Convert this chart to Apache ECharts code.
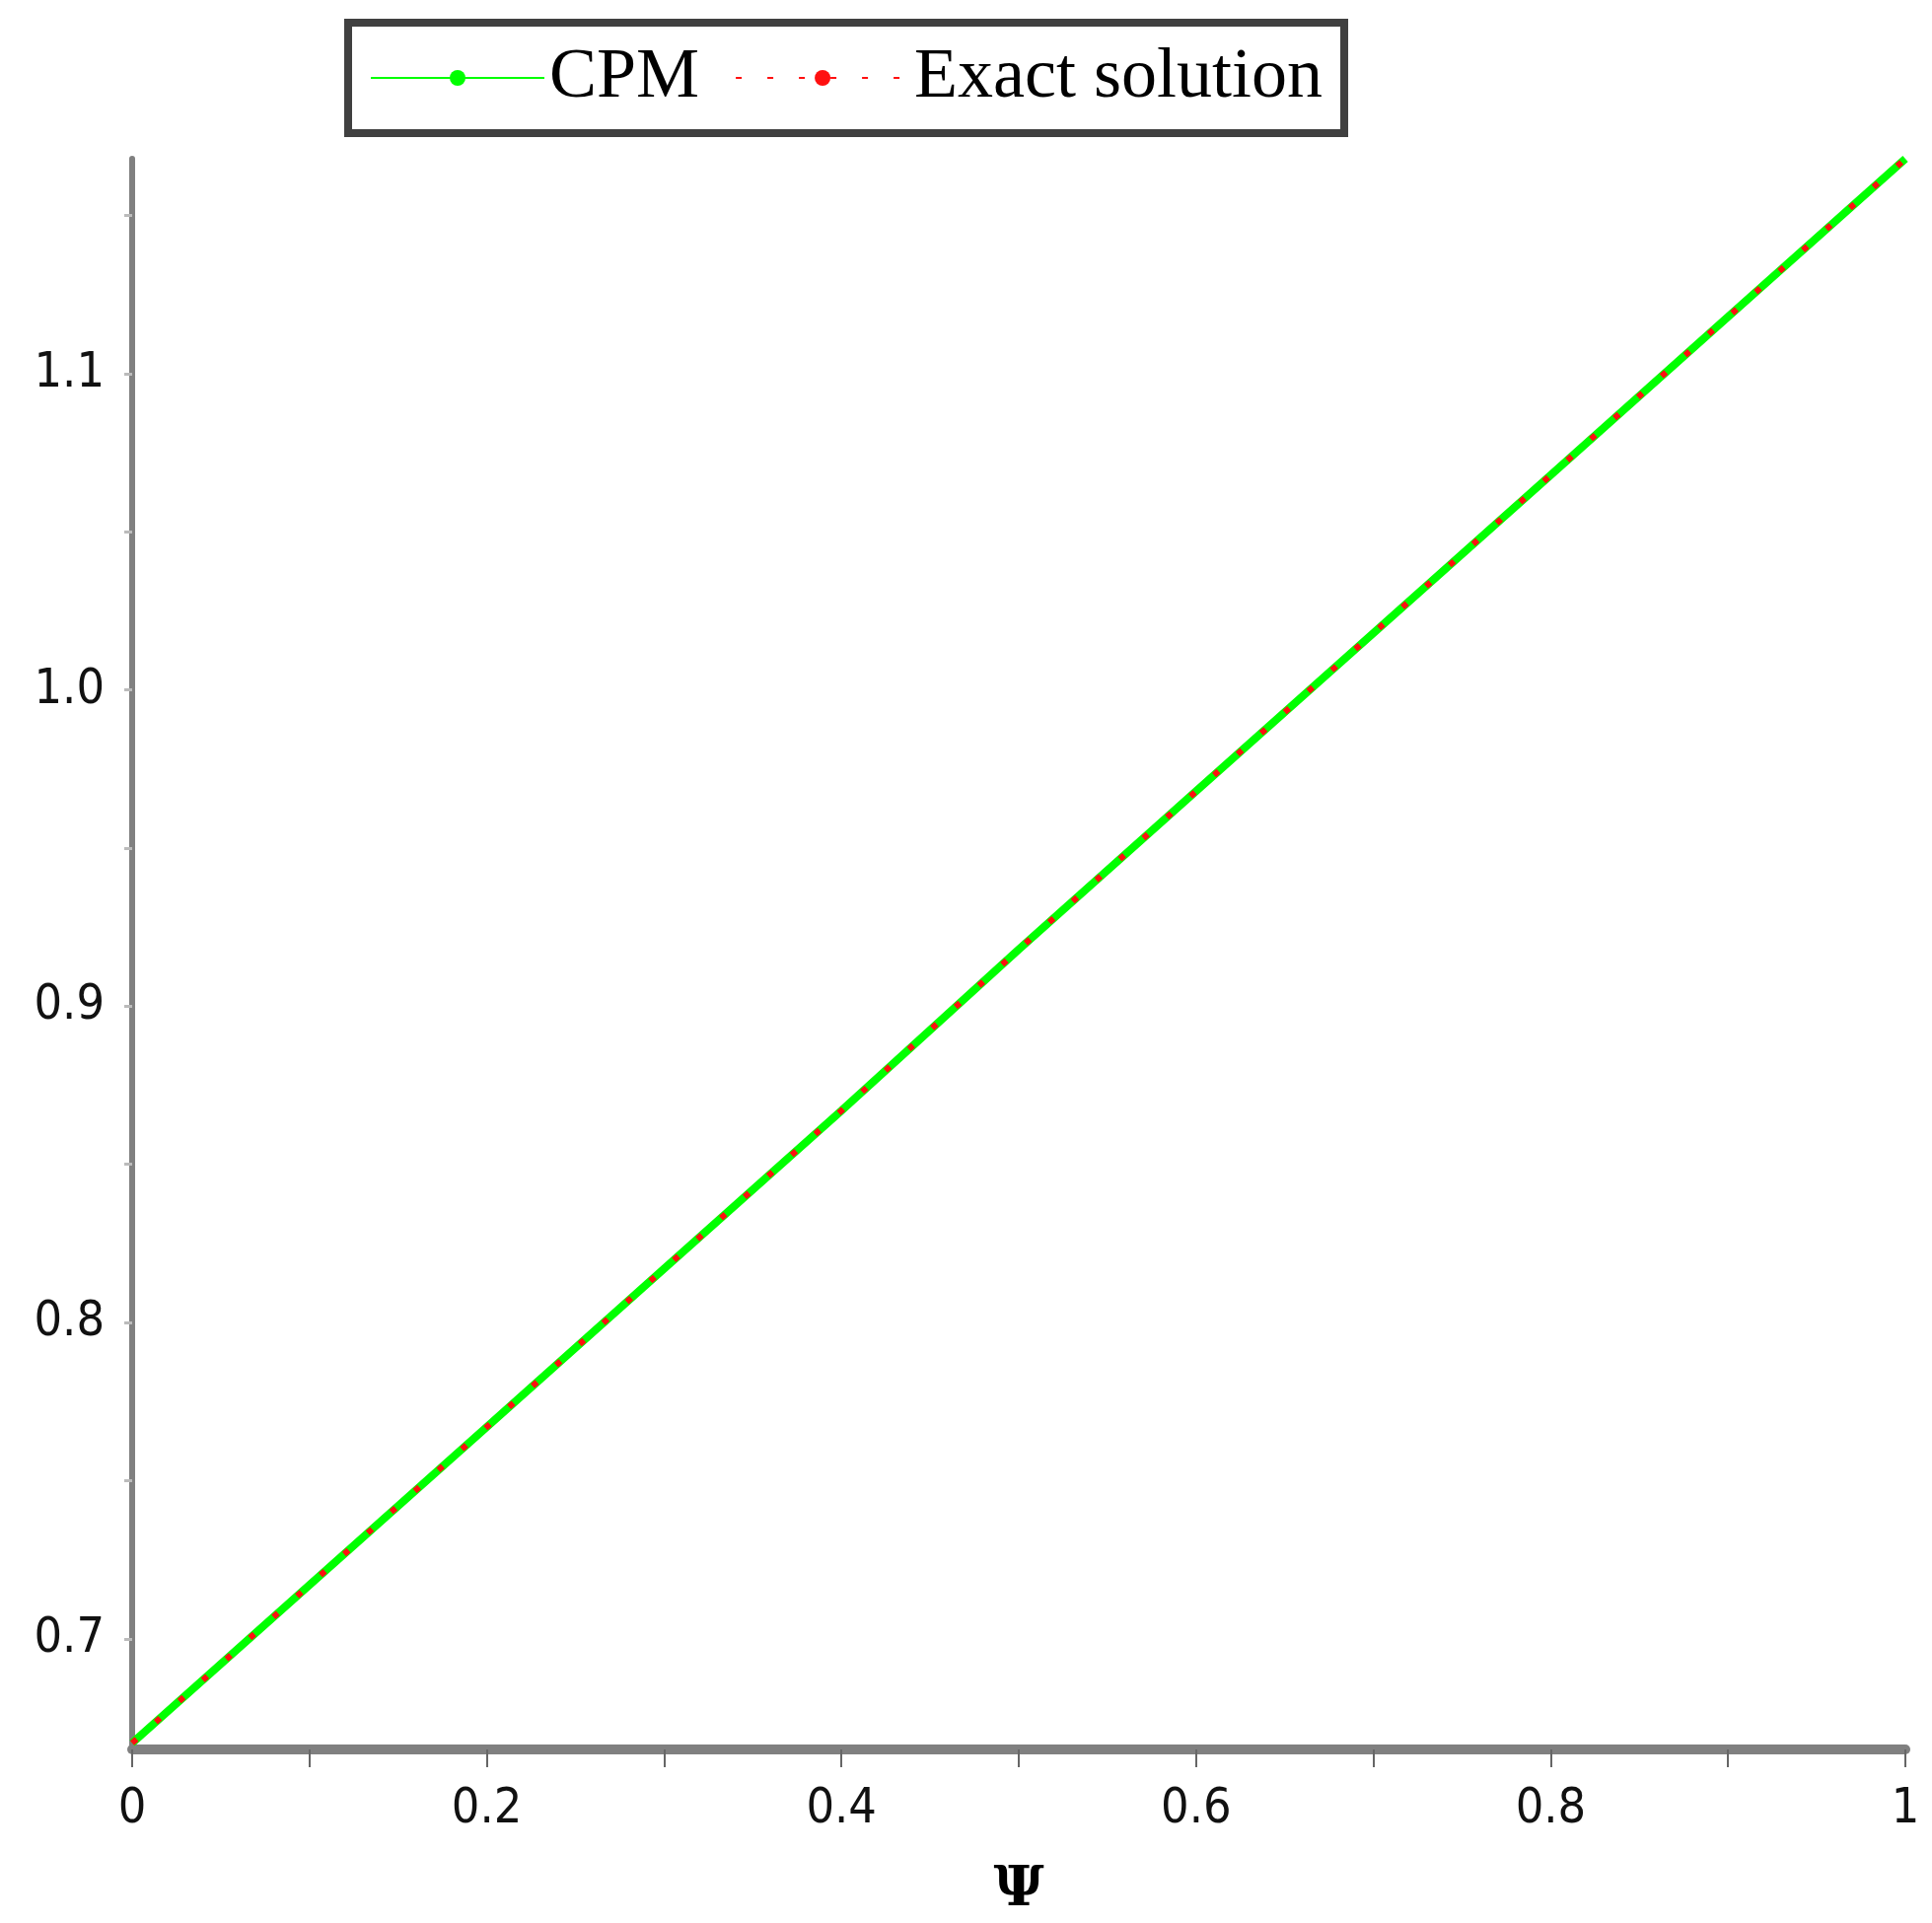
<!DOCTYPE html>
<html>
<head>
<meta charset="utf-8">
<script src="https://cdn.jsdelivr.net/npm/echarts@6/dist/echarts.min.js"></script>
<style>html,body{margin:0;background:#fff}#main{width:1959px;height:1950px}</style>
</head>
<body>
<div id="main"></div>
<script>
// 数据
let psi = [0, 0.1, 0.2, 0.3, 0.4, 0.5, 0.6, 0.7, 0.8, 0.9, 1.0]
let cpm = [0.667, 0.717, 0.767, 0.817, 0.867, 0.918, 0.968, 1.018, 1.068, 1.118, 1.168]
let exact = [0.667, 0.717, 0.767, 0.817, 0.867, 0.918, 0.968, 1.018, 1.068, 1.118, 1.168]
let xLabels = [0, 0.2, 0.4, 0.6, 0.8, 1]
let yLabels = [0.7, 0.8, 0.9, 1.0, 1.1]
let yTicks = [0.7, 0.75, 0.8, 0.85, 0.9, 0.95, 1.0, 1.05, 1.1, 1.15]

let chart = echarts.init(document.getElementById('main'));
let option = {
    animation: false,
    legend: {
        top: 23,
        left: 353,
        itemWidth: 176,
        itemHeight: 20,
        itemGap: 36,
        padding: [20, 22, 20, 22],
        borderWidth: 8,
        borderColor: '#404040',
        textStyle: { fontFamily: 'Liberation Serif', fontSize: 72, color: '#000' },
        data: ['CPM', 'Exact solution']
    },
    grid: { left: 134, right: 27, top: 161, bottom: 174 },
    xAxis: {
        type: 'value', min: 0, max: 1,
        name: 'Ψ', nameLocation: 'middle', nameGap: 115,
        nameTextStyle: { fontFamily: 'DejaVu Serif', fontWeight: 'bold', fontSize: 56, color: '#000' },
        axisLine: { lineStyle: { color: '#808080', width: 10 } },
        axisTick: { customValues: psi, length: 18, lineStyle: { color: '#666', width: 2 } },
        axisLabel: {
            customValues: xLabels, margin: 36,
            fontFamily: 'DejaVu Sans Condensed', fontSize: 50, color: '#111',
            formatter: v => String(+v.toFixed(1))
        },
        splitLine: { show: false }
    },
    yAxis: {
        type: 'value', min: 0.665, max: 1.168,
        axisLine: { show: true, lineStyle: { color: '#808080', width: 6 } },
        axisTick: { show: true, customValues: yTicks, length: 8, lineStyle: { color: '#bbb', width: 3 } },
        axisLabel: {
            customValues: yLabels, margin: 28,
            fontFamily: 'DejaVu Sans Condensed', fontSize: 50, color: '#111',
            formatter: v => v.toFixed(1)
        },
        splitLine: { show: false }
    },
    series: [{
        name: 'CPM', type: 'line', symbol: 'none',
        data: psi.map((x, i) => [x, cpm[i]]),
        lineStyle: { color: '#00ff00', width: 8 },
        itemStyle: { color: '#00ff00' }
    }, {
        name: 'Exact solution', type: 'line', symbol: 'none',
        data: psi.map((x, i) => [x, exact[i]]),
        lineStyle: { color: '#ff1010', width: 6, type: [6, 26] },
        itemStyle: { color: '#ff1010' }
    }]
};
chart.setOption(option);
</script>
</body>
</html>
